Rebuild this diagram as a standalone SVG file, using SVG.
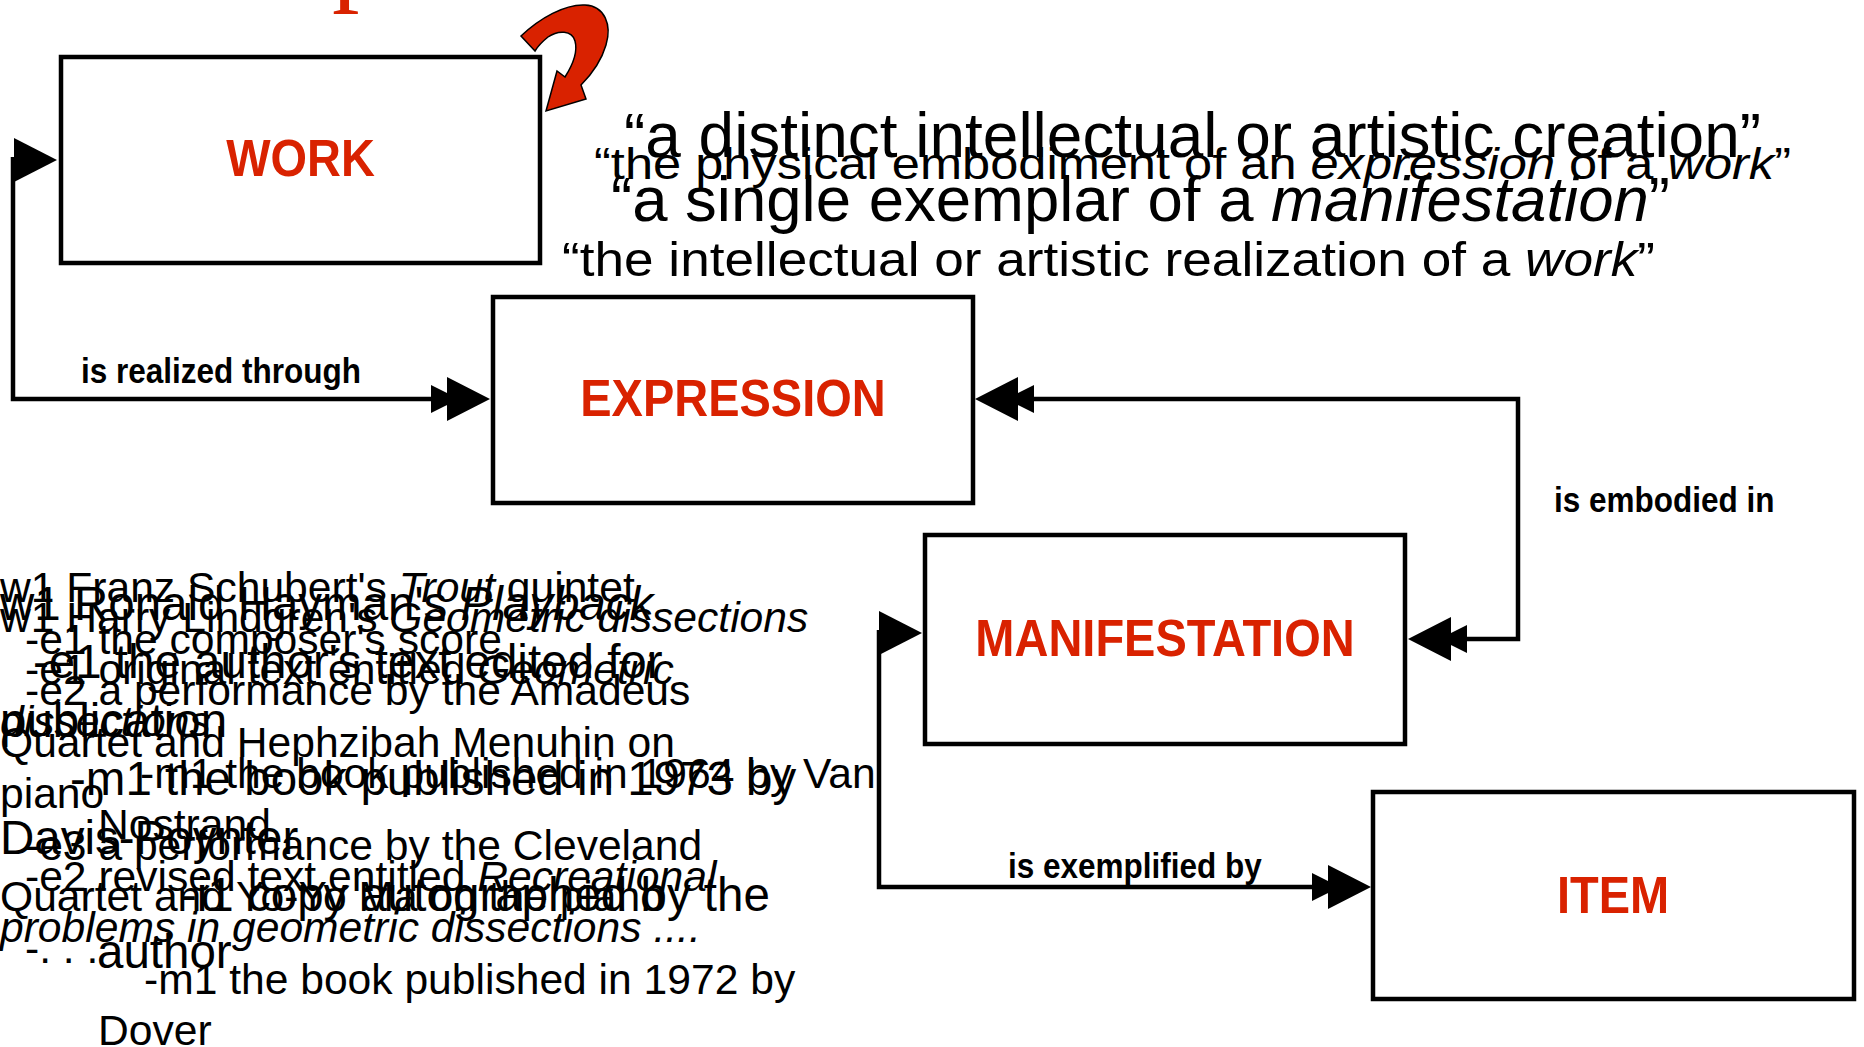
<svg xmlns="http://www.w3.org/2000/svg" xmlns:xlink="http://www.w3.org/1999/xlink" width="1864" height="1047" viewBox="0 0 1864 1047">
<style>
.box{fill:#fff;stroke:#000;stroke-width:4.5}
.lbl{font-family:"Liberation Sans",Arial,sans-serif;font-weight:bold;font-size:47px;fill:#D92200;text-anchor:middle}
.rel{font-family:"Liberation Sans",Arial,sans-serif;font-weight:bold;font-size:31.5px;fill:#000}
.txt{font-family:"Liberation Sans",Arial,sans-serif;fill:#000}
.i{font-style:italic}
.conn{fill:none;stroke:#000;stroke-width:4.5}
.ah{fill:#000}
</style>
<defs>
<path id="ah1" d="M0,0 L-43,-22 L-43,22 Z"/>
<path id="ah2" d="M0,0 L-43,-22 L-43,22 Z M-31,0 L-59,-14 L-59,14 Z"/>
</defs>
<rect width="1864" height="1047" fill="#fff"/>

<g id="title-fragment">
<text x="332" y="-9" font-family="'Liberation Serif',serif" font-size="110" fill="#D92200">p</text>
<path d="M521,36 C540,18 565,4 585,5 C605,6 612,25 606,45 C601,62 590,76 581,85 L586,99 L546,111 L557,71 L565,77 C572,66 578,52 575,41 C572,30 558,30 548,37 C543,41 538,46 535,51 Z" fill="#D92200" stroke="#000" stroke-width="1.5"/>
</g>

<g id="definitions" class="txt">
<text x="624" y="157" font-size="63" textLength="1137" lengthAdjust="spacingAndGlyphs">“a distinct intellectual or artistic creation”</text>
<text x="594" y="179" font-size="44" textLength="1197" lengthAdjust="spacingAndGlyphs">“the physical embodiment of an <tspan class="i">expression</tspan> of a <tspan class="i">work</tspan>”</text>
<text x="611" y="221" font-size="63" textLength="1059" lengthAdjust="spacingAndGlyphs">“a single exemplar of a <tspan class="i">manifestation</tspan>”</text>
<text x="562" y="276" font-size="49" textLength="1093" lengthAdjust="spacingAndGlyphs">“the intellectual or artistic realization of a <tspan class="i">work</tspan>”</text>
</g>

<g id="examples" class="txt">
<text font-size="42.6">
<tspan x="0" y="602">w1 Franz Schubert's <tspan class="i">Trout</tspan> quintet</tspan>
<tspan x="25" y="653.5">-e1 the composer's score</tspan>
<tspan x="25" y="705">-e2 a performance by the Amadeus</tspan>
<tspan x="0" y="756.5">Quartet and Hephzibah Menuhin on</tspan>
<tspan x="0" y="808">piano</tspan>
<tspan x="25" y="859.5">-e3 a performance by the Cleveland</tspan>
<tspan x="0" y="911">Quartet and Yo-Yo Ma on the piano</tspan>
<tspan x="25" y="962.5">-. . .</tspan>
</text>
<text font-size="47.5">
<tspan x="0" y="620">w1 Ronald Hayman's <tspan class="i">Playback</tspan></tspan>
<tspan x="33" y="678">-e1 the author's text edited for</tspan>
<tspan x="0" y="736.5">publication</tspan>
<tspan x="70" y="795">-m1 the book published in 1973 by</tspan>
<tspan x="0" y="853.5">Davis-Poynter</tspan>
<tspan x="181" y="911">-i1 copy autographed by the</tspan>
<tspan x="97" y="968">author</tspan>
</text>
<text font-size="42.6">
<tspan x="0" y="632">w1 Harry Lindgren's <tspan class="i">Geometric dissections</tspan></tspan>
<tspan x="25" y="684">-e1 original text entitled <tspan class="i">Geometric</tspan></tspan>
<tspan x="0" y="736" class="i">dissections</tspan>
<tspan x="140" y="788">-m1 the book published in 1964 by Van</tspan>
<tspan x="98" y="839">Nostrand</tspan>
<tspan x="25" y="891">-e2 revised text entitled <tspan class="i">Recreational</tspan></tspan>
<tspan x="0" y="942" class="i">problems in geometric dissections ....</tspan>
<tspan x="144" y="994">-m1 the book published in 1972 by</tspan>
<tspan x="98" y="1045">Dover</tspan>
</text>
</g>

<g id="connectors">
<path class="conn" d="M13,157 V399 H440"/>
<use xlink:href="#ah1" class="ah" transform="translate(57,160)"/>
<use xlink:href="#ah2" class="ah" transform="translate(490,399)"/>
<text class="rel" transform="translate(81,383) scale(1,1.1)">is realized through</text>
<path class="conn" d="M1460,639 H1518 V399 H1030"/>
<use xlink:href="#ah2" class="ah" transform="translate(975,399) rotate(180)"/>
<use xlink:href="#ah2" class="ah" transform="translate(1408,639) rotate(180)"/>
<text class="rel" transform="translate(1554,512) scale(1,1.1)">is embodied in</text>
<path class="conn" d="M879,630 V887 H1320"/>
<use xlink:href="#ah1" class="ah" transform="translate(922,633)"/>
<use xlink:href="#ah2" class="ah" transform="translate(1371,887)"/>
<text class="rel" transform="translate(1008,878) scale(1,1.1)">is exemplified by</text>
</g>

<g id="work">
<rect class="box" x="61" y="57" width="479" height="206"/>
<text class="lbl" transform="translate(300.5,176) scale(1,1.12)">WORK</text>
</g>
<g id="expression">
<rect class="box" x="493" y="297" width="480" height="206"/>
<text class="lbl" transform="translate(733,416) scale(1,1.12)">EXPRESSION</text>
</g>
<g id="manifestation">
<rect class="box" x="925" y="535" width="480" height="209"/>
<text class="lbl" transform="translate(1165,656) scale(1,1.12)">MANIFESTATION</text>
</g>
<g id="item">
<rect class="box" x="1373" y="792" width="481" height="207"/>
<text class="lbl" transform="translate(1613,913) scale(1,1.12)">ITEM</text>
</g>
</svg>
